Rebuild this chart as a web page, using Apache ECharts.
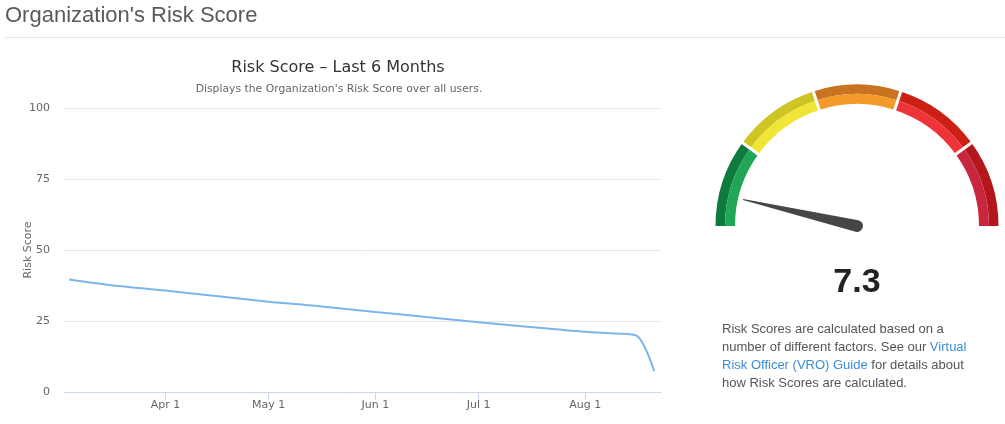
<!DOCTYPE html>
<html>
<head>
<meta charset="utf-8">
<script src="https://cdn.jsdelivr.net/npm/echarts@6/dist/echarts.min.js"></script>
<style>
html,body{margin:0;padding:0;background:#fff;}
#chart{width:1005px;height:424px;}
</style>
</head>
<body>
<div id="chart"></div>
<script>
// ---- data ----
const dates = ['2017-03-04','2017-03-15','2017-04-01','2017-04-15','2017-05-01','2017-05-15','2017-06-01','2017-06-15','2017-07-01','2017-07-15','2017-08-01','2017-08-10','2017-08-16','2017-08-21'];
const scores = [39.6,37.8,35.7,33.9,31.8,30.3,28.2,26.5,24.6,23.0,21.2,20.6,19.8,7.3];
const tickDates = ['2017-04-01','2017-05-01','2017-06-01','2017-07-01','2017-08-01'];
const monthNames = ['Jan','Feb','Mar','Apr','May','Jun','Jul','Aug','Sep','Oct','Nov','Dec'];
const xRange = ['2017-03-02T12:00:00Z','2017-08-23T00:00:00Z'];
const yTicks = [0,25,50,75,100];
const currentScore = 7.3;
const bandStops = [0.2,0.4,0.6,0.8,1];
const bandOuter = ['#0f7a3e','#cfc426','#c8731f','#cc2014','#b3171c'];
const bandInner = ['#20a655','#f1e638','#f39a2b','#ee3439','#c8263d'];
const pageTitle = "Organization's Risk Score";
const chartTitle = 'Risk Score – Last 6 Months';
const chartSubtitle = "Displays the Organization's Risk Score over all users.";
const yAxisTitle = 'Risk Score';

const ts = s => Date.parse(s.length === 10 ? s + 'T00:00:00Z' : s);
const seriesData = dates.map((d, i) => [ts(d), scores[i]]);
const tickVals = tickDates.map(ts);
const fmtDate = v => { const d = new Date(v); return monthNames[d.getUTCMonth()] + ' ' + d.getUTCDate(); };

const chart = echarts.init(document.getElementById('chart'), null, {renderer: 'canvas'});

const gaugeBase = {
  type: 'gauge',
  center: [857, 226],
  startAngle: 180,
  endAngle: 0,
  min: 0,
  max: 100,
  splitNumber: 5,
  axisTick: {show: false},
  axisLabel: {show: false},
  splitLine: {show: false},
  pointer: {show: false},
  anchor: {show: false},
  title: {show: false},
  detail: {show: false},
  silent: true,
  animation: false
};

const option = {
  animation: false,
  grid: {left: 64, right: 344, top: 108, bottom: 32},
  xAxis: {
    type: 'value',
    min: ts(xRange[0]),
    max: ts(xRange[1]),
    axisLine: {show: true, lineStyle: {color: '#ccd6eb', width: 1}},
    axisTick: {show: true, length: 8, lineStyle: {color: '#ccd6eb'}, customValues: tickVals},
    axisLabel: {color: '#666', fontSize: 11, fontFamily: 'DejaVu Sans', margin: 8, customValues: tickVals, formatter: fmtDate},
    splitLine: {show: false}
  },
  yAxis: {
    type: 'value',
    min: yTicks[0],
    max: yTicks[yTicks.length - 1],
    interval: 25,
    name: yAxisTitle,
    nameLocation: 'middle',
    nameGap: 30,
    nameRotate: 90,
    nameMoveOverlap: false,
    nameTextStyle: {color: '#666', fontSize: 11, fontFamily: 'DejaVu Sans'},
    axisLine: {show: false},
    axisTick: {show: false},
    axisLabel: {color: '#666', fontSize: 11, fontFamily: 'DejaVu Sans', margin: 14},
    splitLine: {lineStyle: {color: '#e6e6e6'}}
  },
  graphic: [
    {type: 'text', left: 5, top: 5, style: {text: pageTitle, font: '300 22px "Liberation Sans", Arial, sans-serif', fill: '#5a5a5a'}},
    {type: 'line', shape: {x1: 5, y1: 37.5, x2: 1005, y2: 37.5}, style: {stroke: '#e6e6e6', lineWidth: 1}},
    {type: 'text', x: 338, y: 68, style: {text: chartTitle, font: '16px "DejaVu Sans", sans-serif', fill: '#333', align: 'center', verticalAlign: 'middle'}},
    {type: 'text', x: 339, y: 89, style: {text: chartSubtitle, font: '10.8px "DejaVu Sans", sans-serif', fill: '#666', align: 'center', verticalAlign: 'middle'}},
    {type: 'text', x: 722, y: 320, style: {
      text: 'Risk Scores are calculated based on a\nnumber of different factors. See our {a|Virtual}\n{a|Risk Officer (VRO) Guide} for details about\nhow Risk Scores are calculated.',
      font: '13px "Liberation Sans", Arial, sans-serif', fill: '#555', lineHeight: 18,
      rich: {a: {fill: '#3a8ed9', font: '13px "Liberation Sans", Arial, sans-serif', lineHeight: 18}}
    }}
  ],
  series: [
    {
      type: 'line',
      data: seriesData,
      smooth: 0.3,
      symbol: 'none',
      lineStyle: {color: '#7cb5ec', width: 2},
      itemStyle: {color: '#7cb5ec'},
      z: 3
    },
    Object.assign({}, gaugeBase, {
      radius: 141.5,
      axisLine: {lineStyle: {width: 9.5, color: bandStops.map((s, i) => [s, bandOuter[i]])}},
      data: [{value: currentScore}]
    }),
    Object.assign({}, gaugeBase, {
      radius: 132,
      axisLine: {lineStyle: {width: 10, color: bandStops.map((s, i) => [s, bandInner[i]])}},
      data: [{value: currentScore}]
    }),
    Object.assign({}, gaugeBase, {
      radius: 142,
      startAngle: 144,
      endAngle: 36,
      min: 20,
      max: 80,
      splitNumber: 3,
      axisLine: {show: false, lineStyle: {width: 0}},
      splitLine: {show: true, distance: 0, length: 22, lineStyle: {color: '#fff', width: 3}},
      data: [{value: 20}]
    }),
    Object.assign({}, gaugeBase, {
      radius: 141,
      axisLine: {show: false, lineStyle: {width: 0}},
      pointer: {
        show: true,
        icon: 'path://M5.5,0 L6.5,0 L12,117 A6,6 0 0 1 0,117 Z',
        length: 123,
        width: 12,
        offsetCenter: [0, 6],
        itemStyle: {color: '#464646'}
      },
      detail: {
        show: true,
        offsetCenter: [0, 57],
        formatter: v => v.toFixed(1),
        color: '#222',
        fontSize: 34,
        fontWeight: 'bold',
        fontFamily: '"Liberation Sans", Arial, sans-serif'
      },
      data: [{value: currentScore}]
    })
  ]
};
chart.setOption(option);
</script>
</body>
</html>
